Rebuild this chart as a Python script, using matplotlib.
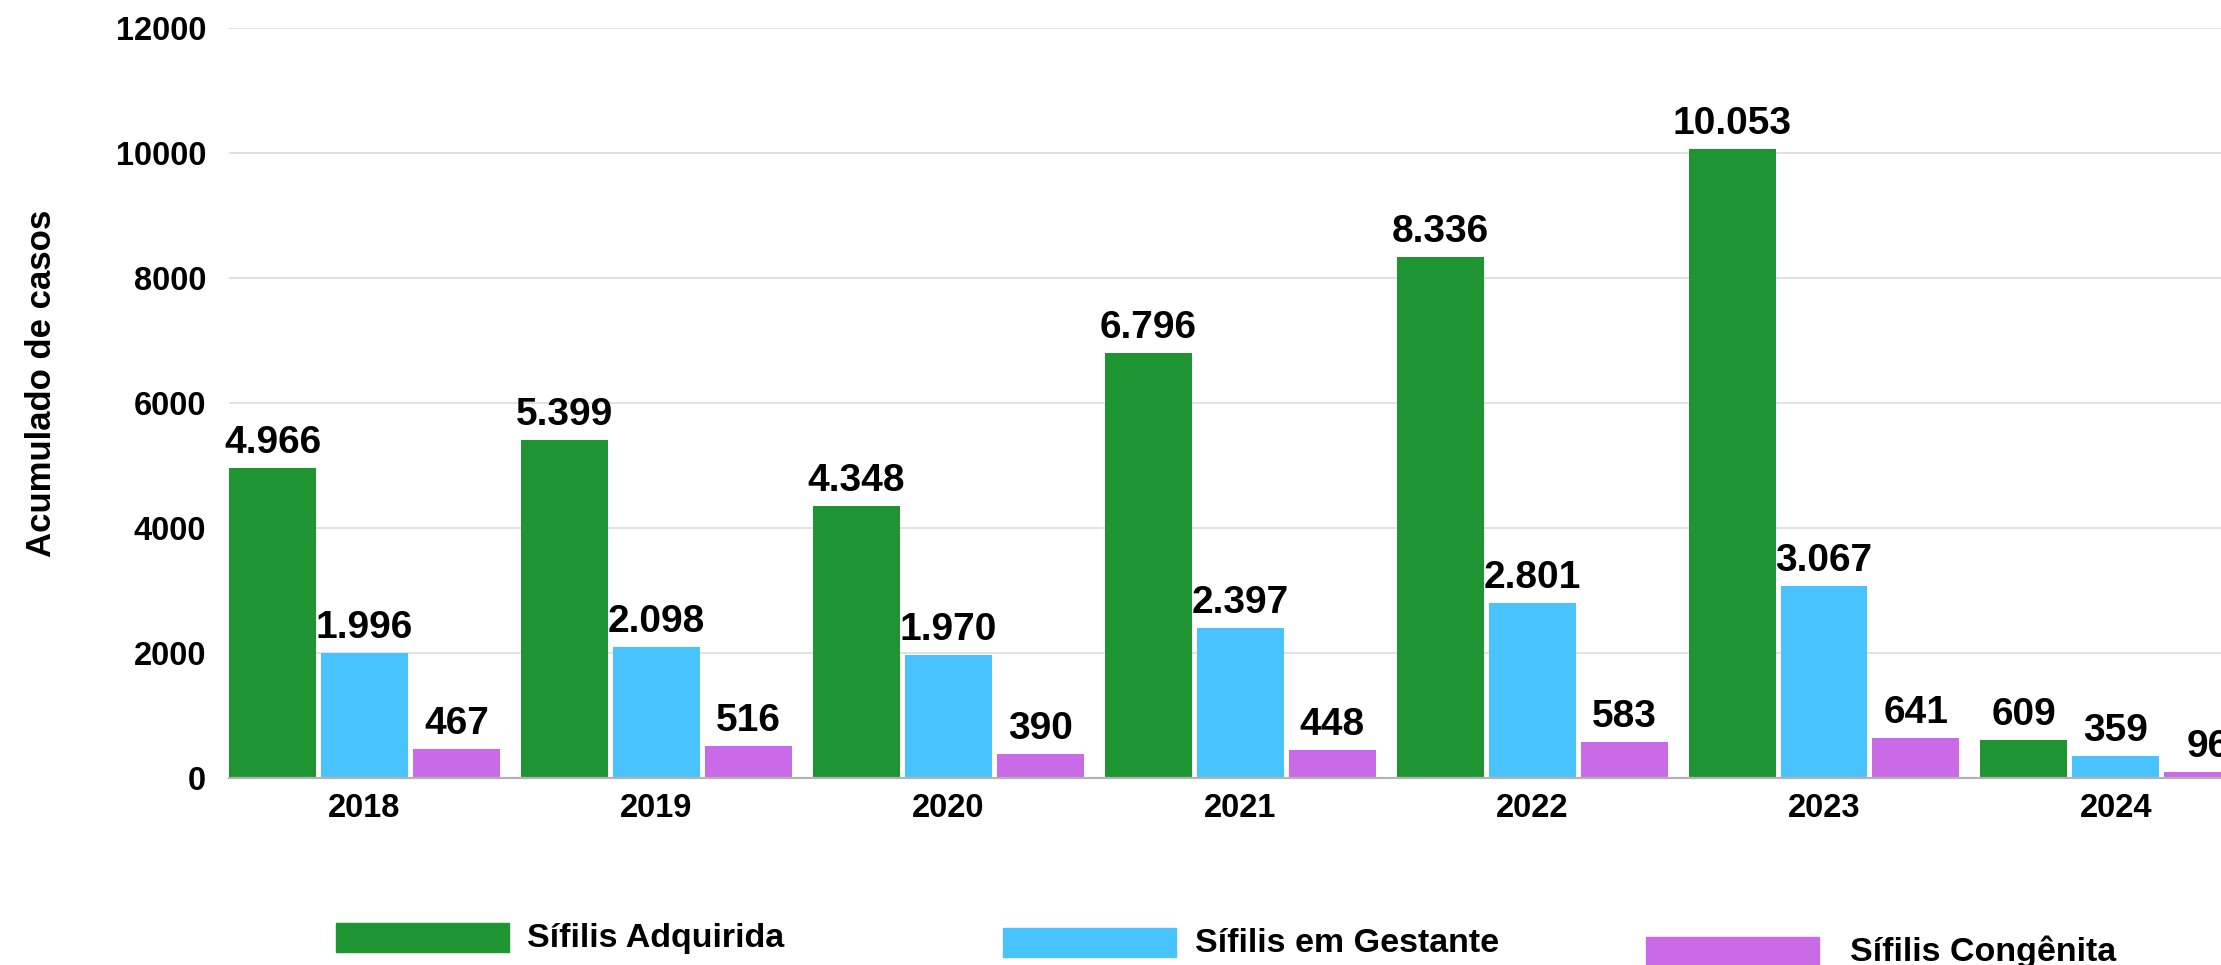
import matplotlib.pyplot as plt
import numpy as np
from matplotlib.patches import Rectangle

plt.rcParams['font.family'] = ['Liberation Sans', 'DejaVu Sans']

# dados
anos = ['2018', '2019', '2020', '2021', '2022', '2023', '2024']
adquirida = [4966, 5399, 4348, 6796, 8336, 10053, 609]
gestante = [1996, 2098, 1970, 2397, 2801, 3067, 359]
congenita = [467, 516, 390, 448, 583, 641, 96]
series = ['Sífilis Adquirida', 'Sífilis em Gestante', 'Sífilis Congênita']
cores = ['#1F9433', '#49C3FD', '#C96BE6']
yticks = [0, 2000, 4000, 6000, 8000, 10000, 12000]

W, H = 2221, 965


def fmt(v):
    return f'{v:,}'.replace(',', '.')


fig = plt.figure(figsize=(W / 100, H / 100), dpi=100)
ax = fig.add_axes([229 / W, 187 / H, 1 - 229 / W, (778 - 27.7) / H])

x = np.arange(len(anos))
w = 0.298
off = 0.315
for vals, cor, dx in zip([adquirida, gestante, congenita], cores, [-off, 0, off]):
    ax.bar(x + dx, vals, w, color=cor, zorder=2)
    for xi, v in zip(x, vals):
        ax.annotate(fmt(v), (xi + dx, v), xytext=(0, 10.8), textcoords='offset points',
                    ha='center', va='baseline', fontsize=28, fontweight='bold',
                    annotation_clip=False)

ax.set_xlim(-0.464, 6.36)
ax.set_ylim(0, 12000)
ax.set_xticks(x)
ax.set_xticklabels(anos, fontsize=23.5, fontweight='bold')
ax.set_yticks(yticks)
ax.set_yticklabels([str(t) for t in yticks], fontsize=23.5, fontweight='bold')
ax.tick_params(axis='x', length=0, pad=11)
ax.tick_params(axis='y', length=0, pad=16.5)
ax.grid(axis='y', color='#d9d9d9', linewidth=1.1, zorder=0)
ax.set_axisbelow(True)
for s in ['top', 'right', 'left']:
    ax.spines[s].set_visible(False)
ax.spines['bottom'].set_color('#b3b3b3')
ax.spines['bottom'].set_linewidth(1.6)

ax.set_ylabel('Acumulado de casos', fontsize=25, fontweight='bold')
ax.yaxis.set_label_coords((58 - 229) / (W - 229), (778 - 383) / (778 - 27.7))

# legenda manual (entradas desalinhadas como no original)
leg = [(336, 923, 527, 938), (1003, 928, 1195, 943), (1646, 937, 1850, 952)]
for (rx, ry, tx, ty), nome, cor in zip(leg, series, cores):
    fig.add_artist(Rectangle((rx / W, (H - ry - 29) / H), 173 / W, 29 / H,
                             transform=fig.transFigure, color=cor))
    fig.text(tx / W, (H - ty) / H, nome, fontsize=24.5, fontweight='bold',
             va='center', ha='left')

fig.savefig('out.png', dpi=100)
